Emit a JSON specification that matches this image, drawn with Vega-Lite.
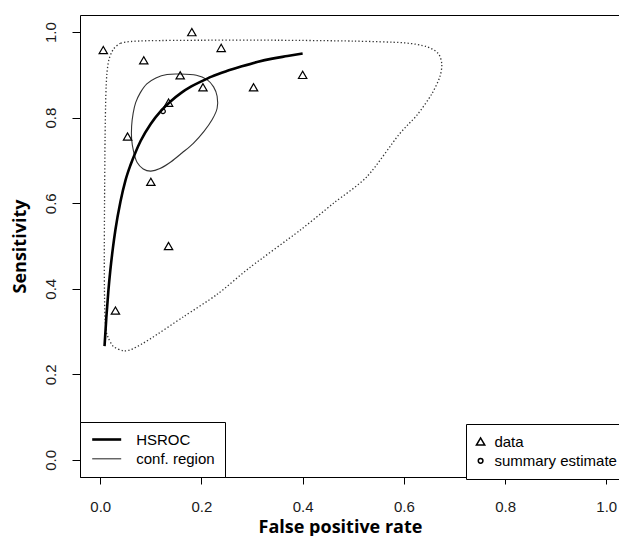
{
  "$schema": "https://vega.github.io/schema/vega-lite/v6.json",
  "autosize": {"type": "none"},
  "padding": {"left": 80, "top": 15, "right": 0, "bottom": 59},
  "width": 539,
  "height": 462,
  "background": "white",
  "config": {
    "view": {"stroke": null},
    "axis": {
      "grid": false,
      "domain": true,
      "domainColor": "black",
      "domainWidth": 1,
      "tickColor": "black",
      "labelFont": "Liberation Sans",
      "labelFontSize": 15,
      "labelColor": "#1a1a1a",
      "labelFlush": false,
      "labelOverlap": false,
      "titleFont": "Open Sans",
      "titleFontWeight": "bold",
      "titleFontSize": 18,
      "titleColor": "black"
    },
    "legend": {
      "strokeColor": "black",
      "fillColor": "white",
      "padding": 10,
      "cornerRadius": 0,
      "offset": 0,
      "labelFont": "Liberation Sans",
      "labelFontSize": 15,
      "labelColor": "black",
      "rowPadding": 3.3
    }
  },
  "resolve": {"axis": {"x": "independent"}},
  "datasets": {
    "pts": [
      {"fpr": 0.006, "sens": 0.958, "kind": "data"},
      {"fpr": 0.181, "sens": 1.0, "kind": "data"},
      {"fpr": 0.086, "sens": 0.934, "kind": "data"},
      {"fpr": 0.239, "sens": 0.963, "kind": "data"},
      {"fpr": 0.158, "sens": 0.899, "kind": "data"},
      {"fpr": 0.203, "sens": 0.871, "kind": "data"},
      {"fpr": 0.303, "sens": 0.871, "kind": "data"},
      {"fpr": 0.4, "sens": 0.9, "kind": "data"},
      {"fpr": 0.135, "sens": 0.835, "kind": "data"},
      {"fpr": 0.054, "sens": 0.756, "kind": "data"},
      {"fpr": 0.1, "sens": 0.65, "kind": "data"},
      {"fpr": 0.135, "sens": 0.5, "kind": "data"},
      {"fpr": 0.03, "sens": 0.349, "kind": "data"},
      {"fpr": 0.124, "sens": 0.815, "kind": "summary estimate"}
    ],
    "hsroc": [
      {"fpr": 0.0085, "sens": 0.266, "series": "HSROC", "order": 1},
      {"fpr": 0.012, "sens": 0.332, "series": "HSROC", "order": 2},
      {"fpr": 0.016, "sens": 0.394, "series": "HSROC", "order": 3},
      {"fpr": 0.02, "sens": 0.444, "series": "HSROC", "order": 4},
      {"fpr": 0.025, "sens": 0.495, "series": "HSROC", "order": 5},
      {"fpr": 0.03, "sens": 0.538, "series": "HSROC", "order": 6},
      {"fpr": 0.04, "sens": 0.604, "series": "HSROC", "order": 7},
      {"fpr": 0.05, "sens": 0.654, "series": "HSROC", "order": 8},
      {"fpr": 0.06, "sens": 0.69, "series": "HSROC", "order": 9},
      {"fpr": 0.07, "sens": 0.72, "series": "HSROC", "order": 10},
      {"fpr": 0.08, "sens": 0.746, "series": "HSROC", "order": 11},
      {"fpr": 0.1, "sens": 0.786, "series": "HSROC", "order": 12},
      {"fpr": 0.12, "sens": 0.816, "series": "HSROC", "order": 13},
      {"fpr": 0.14, "sens": 0.839, "series": "HSROC", "order": 14},
      {"fpr": 0.16, "sens": 0.858, "series": "HSROC", "order": 15},
      {"fpr": 0.18, "sens": 0.873, "series": "HSROC", "order": 16},
      {"fpr": 0.2, "sens": 0.885, "series": "HSROC", "order": 17},
      {"fpr": 0.22, "sens": 0.896, "series": "HSROC", "order": 18},
      {"fpr": 0.25, "sens": 0.909, "series": "HSROC", "order": 19},
      {"fpr": 0.28, "sens": 0.92, "series": "HSROC", "order": 20},
      {"fpr": 0.31, "sens": 0.93, "series": "HSROC", "order": 21},
      {"fpr": 0.34, "sens": 0.938, "series": "HSROC", "order": 22},
      {"fpr": 0.37, "sens": 0.944, "series": "HSROC", "order": 23},
      {"fpr": 0.4, "sens": 0.95, "series": "HSROC", "order": 24}
    ],
    "conf": [
      {"fpr": 0.158, "sens": 0.902, "series": "conf. region", "order": 1},
      {"fpr": 0.19, "sens": 0.899, "series": "conf. region", "order": 2},
      {"fpr": 0.211, "sens": 0.889, "series": "conf. region", "order": 3},
      {"fpr": 0.224, "sens": 0.872, "series": "conf. region", "order": 4},
      {"fpr": 0.231, "sens": 0.85, "series": "conf. region", "order": 5},
      {"fpr": 0.231, "sens": 0.822, "series": "conf. region", "order": 6},
      {"fpr": 0.221, "sens": 0.795, "series": "conf. region", "order": 7},
      {"fpr": 0.205, "sens": 0.768, "series": "conf. region", "order": 8},
      {"fpr": 0.184, "sens": 0.74, "series": "conf. region", "order": 9},
      {"fpr": 0.162, "sens": 0.718, "series": "conf. region", "order": 10},
      {"fpr": 0.14, "sens": 0.697, "series": "conf. region", "order": 11},
      {"fpr": 0.118, "sens": 0.681, "series": "conf. region", "order": 12},
      {"fpr": 0.1, "sens": 0.675, "series": "conf. region", "order": 13},
      {"fpr": 0.085, "sens": 0.68, "series": "conf. region", "order": 14},
      {"fpr": 0.073, "sens": 0.695, "series": "conf. region", "order": 15},
      {"fpr": 0.066, "sens": 0.72, "series": "conf. region", "order": 16},
      {"fpr": 0.062, "sens": 0.75, "series": "conf. region", "order": 17},
      {"fpr": 0.062, "sens": 0.78, "series": "conf. region", "order": 18},
      {"fpr": 0.065, "sens": 0.81, "series": "conf. region", "order": 19},
      {"fpr": 0.07, "sens": 0.835, "series": "conf. region", "order": 20},
      {"fpr": 0.079, "sens": 0.858, "series": "conf. region", "order": 21},
      {"fpr": 0.092, "sens": 0.879, "series": "conf. region", "order": 22},
      {"fpr": 0.11, "sens": 0.893, "series": "conf. region", "order": 23},
      {"fpr": 0.132, "sens": 0.901, "series": "conf. region", "order": 24}
    ],
    "pred": [
      {"fpr": 0.06, "sens": 0.978, "order": 1},
      {"fpr": 0.04, "sens": 0.974, "order": 2},
      {"fpr": 0.026, "sens": 0.96, "order": 3},
      {"fpr": 0.017, "sens": 0.935, "order": 4},
      {"fpr": 0.013, "sens": 0.9, "order": 5},
      {"fpr": 0.011, "sens": 0.85, "order": 6},
      {"fpr": 0.0095, "sens": 0.75, "order": 7},
      {"fpr": 0.0085, "sens": 0.6, "order": 8},
      {"fpr": 0.008, "sens": 0.47, "order": 9},
      {"fpr": 0.0085, "sens": 0.38, "order": 10},
      {"fpr": 0.0095, "sens": 0.33, "order": 11},
      {"fpr": 0.012, "sens": 0.3, "order": 12},
      {"fpr": 0.016, "sens": 0.285, "order": 13},
      {"fpr": 0.026, "sens": 0.265, "order": 14},
      {"fpr": 0.046, "sens": 0.255, "order": 15},
      {"fpr": 0.065, "sens": 0.26, "order": 16},
      {"fpr": 0.099, "sens": 0.283, "order": 17},
      {"fpr": 0.165, "sens": 0.335, "order": 18},
      {"fpr": 0.231, "sens": 0.387, "order": 19},
      {"fpr": 0.296, "sens": 0.45, "order": 20},
      {"fpr": 0.395, "sens": 0.537, "order": 21},
      {"fpr": 0.461, "sens": 0.6, "order": 22},
      {"fpr": 0.527, "sens": 0.662, "order": 23},
      {"fpr": 0.59, "sens": 0.76, "order": 24},
      {"fpr": 0.626, "sens": 0.806, "order": 25},
      {"fpr": 0.655, "sens": 0.855, "order": 26},
      {"fpr": 0.671, "sens": 0.895, "order": 27},
      {"fpr": 0.675, "sens": 0.925, "order": 28},
      {"fpr": 0.668, "sens": 0.95, "order": 29},
      {"fpr": 0.645, "sens": 0.966, "order": 30},
      {"fpr": 0.6, "sens": 0.975, "order": 31},
      {"fpr": 0.5, "sens": 0.979, "order": 32},
      {"fpr": 0.35, "sens": 0.981, "order": 33},
      {"fpr": 0.2, "sens": 0.981, "order": 34},
      {"fpr": 0.1, "sens": 0.98, "order": 35}
    ]
  },
  "encoding": {
    "y": {
      "field": "sens",
      "type": "quantitative",
      "scale": {"domain": [-0.04, 1.04], "nice": false, "zero": false},
      "axis": {
        "values": [0, 0.2, 0.4, 0.6, 0.8, 1.0],
        "format": ".1f",
        "tickSize": 8,
        "labelAngle": -90,
        "labelAlign": "center",
        "labelBaseline": "alphabetic",
        "labelPadding": 17,
        "title": "Sensitivity",
        "titleAngle": -90,
        "titleX": -55,
        "titleY": 231,
        "titleAlign": "center",
        "titleBaseline": "alphabetic"
      }
    }
  },
  "layer": [
    {
      "data": {"name": "pred"},
      "mark": {"type": "line", "interpolate": "cardinal-closed", "tension": 0.2, "color": "#333333", "strokeWidth": 1.3, "strokeDash": [1.3, 2.2]},
      "encoding": {
        "x": {
          "field": "fpr",
          "type": "quantitative",
          "scale": {"domain": [-0.04, 1.0252], "nice": false, "zero": false},
          "axis": {
            "orient": "top",
            "labels": false,
            "ticks": false,
            "title": null
          }
        },
        "order": {"field": "order", "type": "quantitative"}
      }
    },
    {
      "data": {"name": "conf"},
      "mark": {"type": "line", "interpolate": "cardinal-closed", "tension": 0.1},
      "encoding": {
        "x": {
          "field": "fpr",
          "type": "quantitative",
          "scale": {"domain": [-0.04, 1.0252], "nice": false, "zero": false},
          "axis": {
            "orient": "bottom",
            "values": [0, 0.2, 0.4, 0.6, 0.8, 1.0],
            "format": ".1f",
            "tickSize": 7,
            "labelBaseline": "alphabetic",
            "labelPadding": 27,
            "title": "False positive rate",
            "titleX": 260,
            "titleY": 55,
            "titleAlign": "center",
            "titleBaseline": "alphabetic"
          }
        },
        "order": {"field": "order", "type": "quantitative"},
        "color": {
          "field": "series",
          "type": "nominal",
          "scale": {"domain": ["HSROC", "conf. region"], "range": ["#000000", "#333333"]},
          "legend": {
            "title": null,
            "orient": "bottom-left",
            "symbolType": "M-3,0H3",
            "symbolSize": 93.4,
            "symbolOffset": 9.2,
            "labelOffset": 22
          }
        },
        "strokeWidth": {
          "field": "series",
          "type": "nominal",
          "scale": {"domain": ["HSROC", "conf. region"], "range": [2.6, 1.1]}
        }
      }
    },
    {
      "data": {"name": "hsroc"},
      "mark": {"type": "line", "interpolate": "monotone"},
      "encoding": {
        "x": {"field": "fpr", "type": "quantitative", "axis": null},
        "order": {"field": "order", "type": "quantitative"},
        "color": {"field": "series", "type": "nominal"},
        "strokeWidth": {"field": "series", "type": "nominal"}
      }
    },
    {
      "data": {"name": "pts"},
      "mark": {"type": "point", "filled": false, "strokeWidth": 1.2, "opacity": 1, "color": "black"},
      "encoding": {
        "x": {"field": "fpr", "type": "quantitative", "axis": null},
        "shape": {
          "field": "kind",
          "type": "nominal",
          "scale": {"domain": ["data", "summary estimate"], "range": ["triangle-up", "circle"]},
          "legend": {
            "title": null,
            "orient": "none",
            "legendX": 386,
            "legendY": 409,
            "symbolOffset": -2.9,
            "labelOffset": 6.3,
            "symbolStrokeColor": "black"
          }
        },
        "size": {
          "field": "kind",
          "type": "nominal",
          "scale": {"domain": ["data", "summary estimate"], "range": [70, 22]}
        }
      }
    }
  ]
}
